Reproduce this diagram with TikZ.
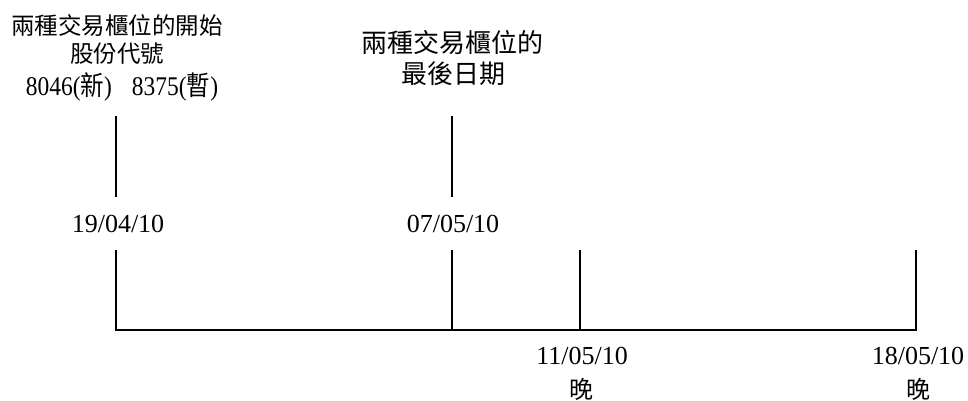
\documentclass[tikz,border=0pt]{standalone}
\usepackage{graphicx}
\usepackage{fontspec}
\setmainfont{Liberation Serif}
\newfontfamily\cjk{Noto Sans CJK TC}
\begin{document}
\begin{tikzpicture}[x=1pt,y=-1pt,
  lbl/.style={inner sep=0pt, anchor=center},
  datelbl/.style={lbl, font=\fontsize{26}{28}\selectfont},
  cjklbl/.style={lbl, font=\cjk\fontsize{24}{26}\selectfont},
  cjkbig/.style={lbl, font=\cjk\fontsize{26}{28}\selectfont},
  tick/.style={line width=2pt, line join=miter}]
\useasboundingbox (0,0) rectangle (968,401);
% top-left block
\node[cjklbl, font=\cjk\fontsize{23.5}{26}\selectfont] (a1) at (117,26) {兩種交易櫃位的開始};
\node[cjklbl, font=\cjk\fontsize{23.5}{26}\selectfont] (a2) at (117,54) {股份代號};
\node[lbl, font=\fontsize{27}{29}\selectfont] (a3) at (122,87) {\scalebox{0.87}[1]{8046({\cjk 新})\hspace{23pt}8375({\cjk 暫})}};
% top-middle block
\node[cjkbig] (b1) at (452,43) {兩種交易櫃位的};
\node[cjkbig] (b2) at (453,74) {最後日期};
% dates
\node[datelbl] (d1) at (118,224) {19/04/10};
\node[datelbl] (d2) at (453,224) {07/05/10};
\node[datelbl] (d3) at (582,356) {11/05/10};
\node[cjklbl] (e3) at (581,389) {晚};
\node[datelbl] (d4) at (918,356) {18/05/10};
\node[cjklbl] (e4) at (918,389) {晚};
% tick coordinates
\coordinate (p1t) at (116,116); \coordinate (p1m) at (116,197);
\coordinate (p1b) at (116,250); \coordinate (p1c) at (116,330);
\coordinate (p2t) at (452,116); \coordinate (p2m) at (452,197);
\coordinate (p2b) at (452,250); \coordinate (p2c) at (452,330);
\coordinate (p3b) at (580,250); \coordinate (p3c) at (580,330);
\coordinate (p4b) at (916,250); \coordinate (p4c) at (916,330);
\draw[tick] (p1t) -- (p1m);
\draw[tick] (p2t) -- (p2m);
\draw[tick] (p1b) -- (p1c) -- (p4c) -- (p4b);
\draw[tick] (p2b) -- (p2c);
\draw[tick] (p3b) -- (p3c);
\end{tikzpicture}
\end{document}
